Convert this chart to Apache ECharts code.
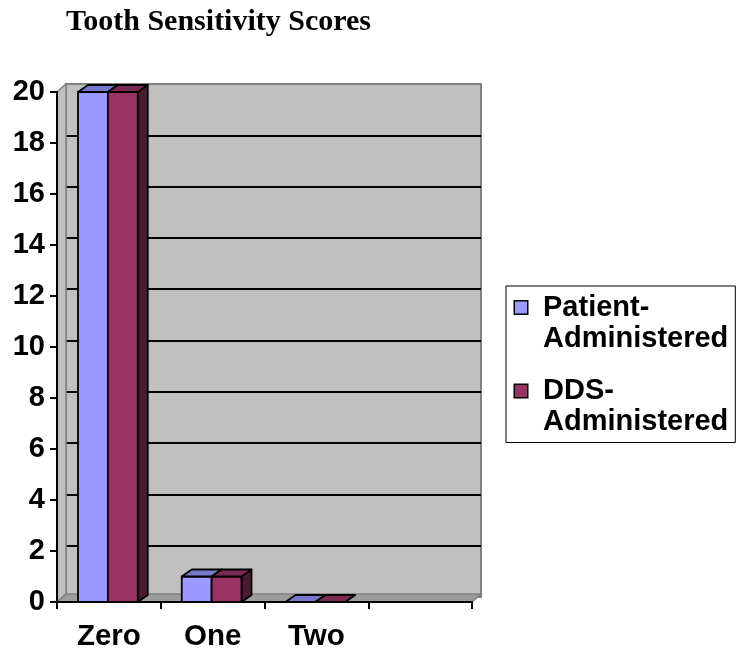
<!DOCTYPE html>
<html>
<head>
<meta charset="utf-8">
<script src="https://cdn.jsdelivr.net/npm/echarts@6/dist/echarts.min.js"></script>
<style>html,body{margin:0;padding:0;background:#fff}#c{width:737px;height:652px}</style>
</head>
<body>
<div id="c"></div>
<script>
// ---- data ----
const titleText = 'Tooth Sensitivity Scores';
const categories = ['Zero', 'One', 'Two', ''];
const seriesNames = ['Patient-Administered', 'DDS-Administered'];
const patientValues = [20, 1, 0, null];
const ddsValues = [20, 1, 0, null];
const yMin = 0, yMax = 20, yStep = 2;

// ---- style constants ----
const FONT = 'Liberation Sans, Arial, sans-serif';
const DX = 10, DY = -7;          // bar depth projection
const WDX = 9, WDY = -8;         // wall depth projection
const BAR_RATIO = 0.288;
const PAIR_SHIFT = -1;
const faceColors = [
  { front: '#9999FF', top: '#7878CC', side: '#4D4D80' },
  { front: '#993366', top: '#7A2952', side: '#4D1A33' }
];

function toData(arr) {
  const out = [];
  arr.forEach((v, i) => { if (v !== null && v !== undefined) out.push([i, v]); });
  return out;
}

function barRenderer(idx) {
  const c = faceColors[idx];
  return function (params, api) {
    const cat = api.value(0), val = api.value(1);
    const base = api.coord([cat, 0]);
    const top = api.coord([cat, val]);
    const band = api.size([1, 0])[0];
    const w = band * BAR_RATIO;
    const x0 = base[0] + PAIR_SHIFT + (idx === 0 ? -w : 0);
    const x1 = x0 + w;
    const y0 = top[1], y1 = base[1];
    const stroke = { stroke: '#000', lineWidth: 1.8, lineJoin: 'round' };
    const children = [];
    if (y1 - y0 > 0.5) {
      children.push({
        type: 'polygon',
        shape: { points: [[x1, y0], [x1 + DX, y0 + DY], [x1 + DX, y1 + DY], [x1, y1]] },
        style: Object.assign({ fill: c.side }, stroke)
      });
      children.push({
        type: 'rect',
        shape: { x: x0, y: y0, width: w, height: y1 - y0 },
        style: Object.assign({ fill: c.front }, stroke)
      });
    }
    children.push({
      type: 'polygon',
      shape: { points: [[x0, y0], [x1, y0], [x1 + DX, y0 + DY], [x0 + DX, y0 + DY]] },
      style: Object.assign({ fill: c.top }, stroke)
    });
    return { type: 'group', children: children };
  };
}

function wallRenderer(params, api) {
  const cs = params.coordSys;
  const L = cs.x, T = cs.y, R = cs.x + cs.width, B = cs.y + cs.height;
  return {
    type: 'group',
    children: [
      { type: 'polygon',
        shape: { points: [[L, T], [L + WDX, T + WDY], [L + WDX, B + WDY], [L, B]] },
        style: { fill: '#C0C0C0', stroke: '#808080', lineWidth: 1.5 } },
      { type: 'polygon',
        shape: { points: [[L, B], [L + WDX, B + WDY], [R + WDX, B + WDY], [R, B]] },
        style: { fill: '#9C9C9C', stroke: '#808080', lineWidth: 1.5 } }
    ]
  };
}

const chart = echarts.init(document.getElementById('c'), null, { renderer: 'canvas' });

const legendRich = {
  b0: { width: 12, height: 12, backgroundColor: faceColors[0].front, borderColor: '#000', borderWidth: 1.5 },
  b1: { width: 12, height: 12, backgroundColor: faceColors[1].front, borderColor: '#000', borderWidth: 1.5 },
  g: { width: 16, height: 12 },
  g2: { width: 28, height: 12 },
  t: { fontFamily: FONT, fontWeight: 'bold', fontSize: 29, lineHeight: 31, color: '#000' }
};

chart.setOption({
  animation: false,
  backgroundColor: '#fff',
  title: {
    text: titleText,
    left: 66, top: 7,
    padding: 0,
    textStyle: { fontFamily: 'Liberation Serif, Times New Roman, serif', fontWeight: 'bold', fontSize: 30, color: '#000' }
  },
  legend: {
    orient: 'vertical',
    left: 506, top: 286,
    padding: [6, 7, 5, 4],
    itemGap: 21.5,
    itemWidth: 0, itemHeight: 0,
    icon: 'none',
    borderColor: '#000', borderWidth: 1,
    backgroundColor: '#fff',
    selectedMode: false,
    data: seriesNames,
    formatter: function (name) {
      const i = seriesNames.indexOf(name);
      const parts = name.split('-');
      return '{b' + i + '|}{g|}{t|' + parts[0] + '-}\n{g2|}{t|' + parts[1] + '}';
    },
    textStyle: { fontFamily: FONT, fontWeight: 'bold', fontSize: 29, lineHeight: 31, color: '#000', rich: legendRich }
  },
  grid: [
    { left: 57, top: 92, width: 415, height: 512, containLabel: false },
    { left: 66, top: 84, width: 415, height: 513, show: true, backgroundColor: '#C0C0C0', borderColor: '#808080', borderWidth: 2, z: 0 }
  ],
  xAxis: [
    {
      type: 'category', gridIndex: 0, data: categories, boundaryGap: true,
      axisLine: { show: true, lineStyle: { color: '#000', width: 2 } },
      axisTick: { show: true, length: 7, lineStyle: { color: '#000', width: 2 }, alignWithLabel: false, interval: 0 },
      axisLabel: { interval: 0, margin: 20, color: '#000', fontFamily: FONT, fontWeight: 'bold', fontSize: 29.5 },
      splitLine: { show: false },
      z: 5
    },
    { type: 'value', gridIndex: 1, min: 0, max: 1, show: false }
  ],
  yAxis: [
    {
      type: 'value', gridIndex: 0, min: yMin, max: yMax, interval: yStep,
      axisLine: { show: true, lineStyle: { color: '#000', width: 2 } },
      axisTick: { show: true, length: 7, lineStyle: { color: '#000', width: 2 } },
      axisLabel: { margin: 12, color: '#000', fontFamily: FONT, fontWeight: 'bold', fontSize: 29, padding: [3, 0, 0, 0] },
      splitLine: { show: false },
      z: 5
    },
    {
      type: 'value', gridIndex: 1, min: yMin, max: yMax, interval: yStep,
      axisLine: { show: false }, axisTick: { show: false }, axisLabel: { show: false },
      splitLine: { show: true, showMinLine: false, showMaxLine: false, lineStyle: { color: '#000', width: 2 } },
      z: 0
    }
  ],
  series: [
    {
      type: 'custom', name: 'walls', xAxisIndex: 0, yAxisIndex: 0,
      data: [[0, 0]], renderItem: wallRenderer, z: 1, silent: true
    },
    {
      type: 'custom', name: seriesNames[0], xAxisIndex: 0, yAxisIndex: 0,
      itemStyle: { color: faceColors[0].front },
      data: toData(patientValues), renderItem: barRenderer(0), z: 2
    },
    {
      type: 'custom', name: seriesNames[1], xAxisIndex: 0, yAxisIndex: 0,
      itemStyle: { color: faceColors[1].front },
      data: toData(ddsValues), renderItem: barRenderer(1), z: 3
    }
  ]
});
</script>
</body>
</html>
